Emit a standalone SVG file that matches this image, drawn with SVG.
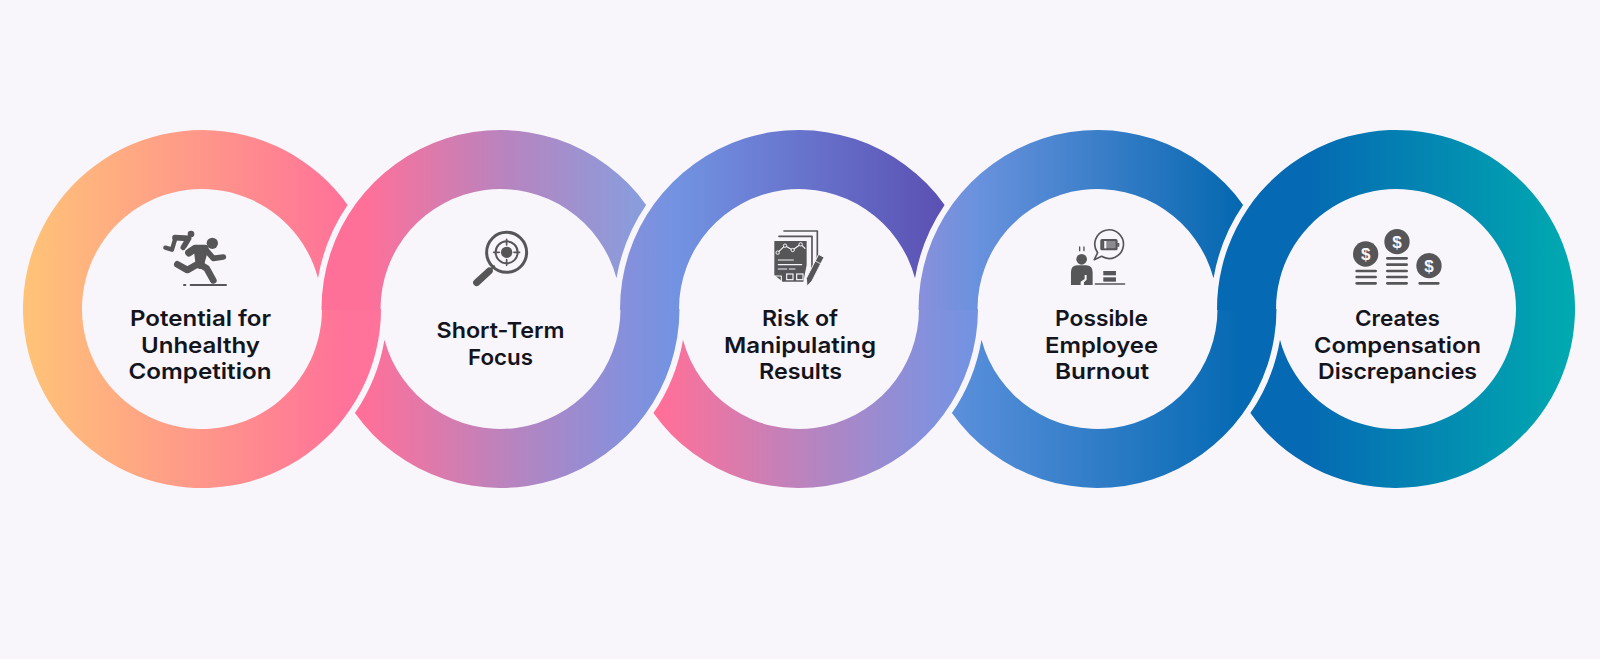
<svg xmlns="http://www.w3.org/2000/svg" width="1600" height="659" viewBox="0 0 1600 659">
<style>
text.l{font-family:"Inter","Liberation Sans",sans-serif;font-weight:600;font-size:22px;fill:#14141c;text-anchor:middle}
.ic{fill:#565558;stroke:none}
.s{fill:none;stroke:#565558;stroke-linecap:round;stroke-linejoin:round}
.w{fill:none;stroke:#f8f6fb;stroke-linecap:round;stroke-linejoin:round}
text.d{font-family:"Liberation Sans",sans-serif;font-weight:700;font-size:17px;fill:#f8f6fb;text-anchor:middle}
</style>
<defs>
<linearGradient id="g1" gradientUnits="userSpaceOnUse" x1="30" y1="0" x2="345" y2="0"><stop offset="0" stop-color="#FFC278"/><stop offset="1" stop-color="#FF7299"/></linearGradient>
<linearGradient id="g2t" gradientUnits="userSpaceOnUse" x1="365" y1="0" x2="635" y2="0"><stop offset="0" stop-color="#FF7099"/><stop offset=".52" stop-color="#B884BF"/><stop offset="1" stop-color="#8A9CDC"/></linearGradient>
<linearGradient id="g2b" gradientUnits="userSpaceOnUse" x1="365" y1="0" x2="675" y2="0"><stop offset="0" stop-color="#FF7099"/><stop offset=".47" stop-color="#B884BF"/><stop offset=".84" stop-color="#8690DC"/><stop offset="1" stop-color="#7293E2"/></linearGradient>
<linearGradient id="g3t" gradientUnits="userSpaceOnUse" x1="625" y1="0" x2="945" y2="0"><stop offset="0" stop-color="#8690DC"/><stop offset=".16" stop-color="#7293E2"/><stop offset="1" stop-color="#5B50B3"/></linearGradient>
<linearGradient id="g3b" gradientUnits="userSpaceOnUse" x1="663" y1="0" x2="973" y2="0"><stop offset="0" stop-color="#FF7099"/><stop offset=".47" stop-color="#B884BF"/><stop offset=".84" stop-color="#8690DC"/><stop offset="1" stop-color="#7293E2"/></linearGradient>
<linearGradient id="g4t" gradientUnits="userSpaceOnUse" x1="925" y1="0" x2="1240" y2="0"><stop offset="0" stop-color="#8690DC"/><stop offset=".16" stop-color="#6A92DE"/><stop offset="1" stop-color="#0468B0"/></linearGradient>
<linearGradient id="g4b" gradientUnits="userSpaceOnUse" x1="950" y1="0" x2="1240" y2="0"><stop offset="0" stop-color="#5C90DC"/><stop offset="1" stop-color="#056AB3"/></linearGradient>
<linearGradient id="g5" gradientUnits="userSpaceOnUse" x1="1310" y1="0" x2="1575" y2="0"><stop offset="0" stop-color="#056AB3"/><stop offset="1" stop-color="#00AAB0"/></linearGradient>
</defs>
<rect width="1600" height="659" fill="#F8F6FB"/>

<g id="node-1">
<path fill="url(#g1)" d="M381,309 A179,179 0 1 1 347.6,204.9 A185,185 0 0 0 318,278.3 A120,120 0 1 0 322,309 Z"/>
<g transform="translate(140,215) scale(.3333)">
<circle class="ic" cx="153" cy="57" r="10"/>
<path class="s" stroke-width="17" d="M105,68 L146,70 L130,97"/>
<path class="s" stroke-width="13" d="M106,70 L96,104 L76,98"/>
<path d="M148,112 L165,101 L196,101 L180,150" fill="none" stroke="#f8f6fb" stroke-width="32" stroke-linejoin="round" stroke-linecap="round"/>
<circle class="ic" cx="217" cy="85" r="17"/>
<path class="s" stroke-width="23" d="M147,113 L165,101 L194,101 L180,150"/>
<path class="ic" d="M160,92 L202,90 L192,152 L168,158 Z"/>
<path class="s" stroke-width="17" d="M198,105 L220,130 L250,126"/>
<path class="s" stroke-width="20" d="M172,148 L142,165 L112,148"/>
<path class="s" stroke-width="20" d="M180,148 L200,160 L220,196"/>
<path class="s" stroke-width="6" d="M152,210 L258,210 M132,210 L136,210"/>
<path class="w" stroke-width="3" d="M148,128 L162,134"/>
</g>
<text class="l" x="200.500" y="326" textLength="141" lengthAdjust="spacingAndGlyphs">Potential for</text>
<text class="l" x="200.500" y="352.500" textLength="119" lengthAdjust="spacingAndGlyphs">Unhealthy</text>
<text class="l" x="200" y="379.300" textLength="143" lengthAdjust="spacingAndGlyphs">Competition</text>
</g>

<g id="node-2">
<path fill="url(#g2b)" d="M679.500,309 A179,179 0 0 1 354.900,413.100 A185,185 0 0 0 384.500,339.700 A120,120 0 0 0 620.500,309 Z"/>
<path fill="url(#g2t)" d="M321.500,310 L321.500,309 A179,179 0 0 1 646.100,204.900 A185,185 0 0 0 616.500,278.300 A120,120 0 0 0 380.500,309 L380.500,310 Z"/>
<g transform="translate(140,215) scale(.3333)">
<circle class="s" stroke-width="9" cx="1100" cy="112" r="60"/>
<circle class="s" stroke-width="6" cx="1100" cy="112" r="33"/>
<circle class="ic" cx="1100" cy="112" r="17"/>
<path class="s" stroke-width="5" d="M1100,73 V90 M1100,134 V151 M1061,112 H1078 M1122,112 H1139"/>
<path class="s" stroke-width="21" d="M1048,168 L1010,203"/>
<path class="s" stroke-width="7" d="M1056,160 L1062,154"/>
</g>
<text class="l" x="500.500" y="337.500" textLength="128" lengthAdjust="spacingAndGlyphs">Short-Term</text>
<text class="l" x="500.500" y="365" textLength="65" lengthAdjust="spacingAndGlyphs">Focus</text>
</g>

<g id="node-3">
<path fill="url(#g3b)" d="M978,309 A179,179 0 0 1 653.400,413.100 A185,185 0 0 0 683,339.700 A120,120 0 0 0 919,309 Z"/>
<path fill="url(#g3t)" d="M620,310 L620,309 A179,179 0 0 1 944.600,204.900 A185,185 0 0 0 915,278.300 A120,120 0 0 0 679,309 L679,310 Z"/>
<g transform="translate(740,215) scale(.3333)">
<path class="s" stroke-width="5" d="M132,48 H232 V155"/>
<path class="s" stroke-width="5" d="M117,64 H216 V170"/>
<path class="ic" d="M103,78 H200 V150 L190,200 H128 L103,180 Z"/>
<path class="w" stroke-width="3.500" d="M113,113 L135,92 L158,105 L182,88 L195,100"/>
<g fill="#565558" stroke="#f8f6fb" stroke-width="3"><circle cx="113" cy="113" r="5"/><circle cx="135" cy="92" r="5"/><circle cx="158" cy="105" r="5"/><circle cx="182" cy="88" r="5"/></g>
<path class="w" stroke-width="3.500" d="M115,135 H160 M115,149 H185 M115,162 H140 M148,162 H165 M106,183 L124,183 L124,197"/>
<rect x="140" y="177" width="19" height="17" fill="none" stroke="#f8f6fb" stroke-width="3.500"/>
<rect x="170" y="177" width="19" height="17" fill="none" stroke="#f8f6fb" stroke-width="3.500"/>
<path d="M236,118 L252,127 L216,198 L201,214 L199,190 Z" fill="#565558" stroke="#f8f6fb" stroke-width="3"/>
<path class="w" stroke-width="2.500" d="M226,138 L243,147"/>
</g>
<text class="l" x="800" y="325.700" textLength="76" lengthAdjust="spacingAndGlyphs">Risk of</text>
<text class="l" x="800" y="352.700" textLength="152" lengthAdjust="spacingAndGlyphs">Manipulating</text>
<text class="l" x="800.500" y="379.300" textLength="83" lengthAdjust="spacingAndGlyphs">Results</text>
</g>

<g id="node-4">
<path fill="url(#g4b)" d="M1276.500,309 A179,179 0 0 1 951.900,413.100 A185,185 0 0 0 981.500,339.700 A120,120 0 0 0 1217.500,309 Z"/>
<path fill="url(#g4t)" d="M918.500,310 L918.500,309 A179,179 0 0 1 1243.100,204.900 A185,185 0 0 0 1213.500,278.300 A120,120 0 0 0 977.500,309 L977.500,310 Z"/>
<g transform="translate(740,215) scale(.3333)">
<circle class="ic" cx="1025" cy="133" r="16"/>
<path class="s" stroke-width="4" d="M1019,96 V107 M1032,96 V107"/>
<path class="ic" d="M993,210 V172 Q993,151 1012,151 H1038 Q1058,151 1058,172 V210 H1032 V202 L1040,194 V180 H1034 V192 L1022,200 V210 Z"/>
<path class="s" stroke-width="4" d="M1066,207 H1154"/>
<rect class="ic" x="1090" y="168" width="38" height="13"/><rect class="ic" x="1090" y="187" width="38" height="13"/>
<path class="s" stroke-width="5" d="M1073,113 A43,43 0 1 1 1085,124 L1063,134 Z"/>
<rect x="1084" y="75" width="46" height="28" rx="2" fill="#8b8a8e" stroke="#565558" stroke-width="6"/>
<rect class="ic" x="1087" y="78" width="6" height="22"/><rect x="1093" y="78" width="6" height="22" fill="#f8f6fb"/><rect class="ic" x="1132" y="84" width="6" height="11"/>
</g>
<text class="l" x="1101.500" y="325.700" textLength="93" lengthAdjust="spacingAndGlyphs">Possible</text>
<text class="l" x="1101.500" y="352.700" textLength="113" lengthAdjust="spacingAndGlyphs">Employee</text>
<text class="l" x="1102" y="379.300" textLength="94" lengthAdjust="spacingAndGlyphs">Burnout</text>
</g>

<g id="node-5">
<path fill="url(#g5)" d="M1217,310 L1217,309 A179,179 0 1 1 1250.400,413.100 A185,185 0 0 0 1280,339.700 A120,120 0 1 0 1276,309 L1276,310 Z"/>
<g transform="translate(1320,215) scale(.3333)">
<circle class="ic" cx="137" cy="117" r="38"/><circle class="ic" cx="231" cy="80" r="38"/><circle class="ic" cx="327" cy="152" r="38"/>
<path class="s" stroke-width="8" d="M110,168 H167 M110,186 H167 M110,205 H167 M202,130 H260 M202,149 H260 M202,168 H260 M202,186 H260 M202,205 H260 M299,205 H355"/>
</g>
<text class="d" x="1365.700" y="260">$</text><text class="d" x="1397" y="248">$</text><text class="d" x="1429" y="272">$</text>
<text class="l" x="1397.500" y="325.700" textLength="85" lengthAdjust="spacingAndGlyphs">Creates</text>
<text class="l" x="1397.500" y="352.700" textLength="167" lengthAdjust="spacingAndGlyphs">Compensation</text>
<text class="l" x="1397.500" y="379.300" textLength="159" lengthAdjust="spacingAndGlyphs">Discrepancies</text>
</g>
<g id="connectors"/>
</svg>
